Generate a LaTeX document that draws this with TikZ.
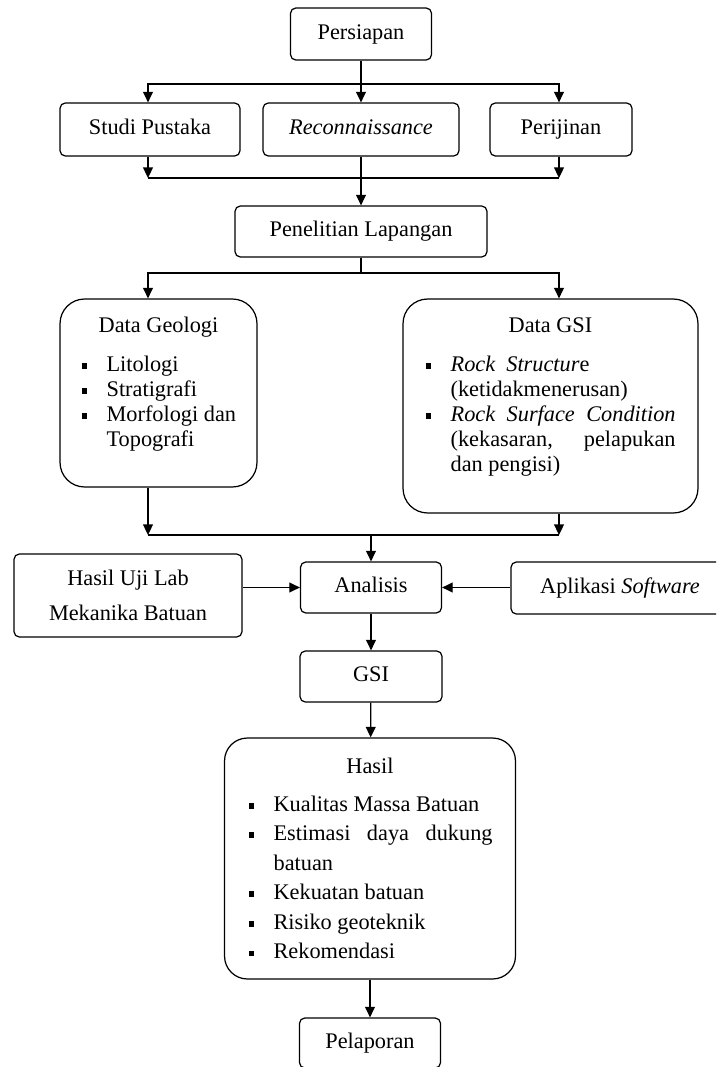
\documentclass[tikz,border=0pt]{standalone}
\usepackage{fontspec}
\setmainfont{Liberation Serif}
\usepackage{tikz}
\usetikzlibrary{positioning, arrows.meta, calc}
\hyphenpenalty=10000
\exhyphenpenalty=10000
\tolerance=10000
\newcommand{\kotakhitam}{\rule[1.4pt]{3.2pt}{3.2pt}}
\newcommand{\butir}{\hangindent=0.5cm\hangafter=1\makebox[0.5cm][l]{\kotakhitam}}
\tikzset{
  boxbase/.style={rectangle, rounded corners=3pt, minimum width=2.82cm, minimum height=1.04cm, text centered, draw=black},
  process/.style={boxbase, text height=8.6pt, text depth=2.8pt},
  group/.style={rectangle, rounded corners=14pt, draw=black},
  judul/.style={anchor=base, inner sep=0pt},
  isi/.style={anchor=base west, inner sep=0pt},
  arrow/.style={-{Triangle[length=6pt,width=5.6pt]}}
}
\begin{document}
\begin{tikzpicture}[
            % satu satuan = satu piksel gambar acuan
            x=0.02cm, y=-0.02cm,
            line width=0.7pt,
            every node/.style={font=\fontsize{12.7}{14.3}\selectfont}
        ]
            \useasboundingbox (0,0) rectangle (716,1067);
            \clip (0,0) rectangle (716,1067);

            % Tahap persiapan
            \node (persiapan) [process] at (361,34) {Persiapan};
            \node (studi) [process, minimum width=3.6cm, minimum height=1.06cm] at (150,129.5) {Studi Pustaka};
            \node (recon) [process, minimum width=3.92cm, minimum height=1.06cm] at (361,129.5) {\textit{Reconnaissance}};
            \node (izin) [process, minimum width=2.84cm, minimum height=1.06cm] at (561,129.5) {Perijinan};
            \node (lapangan) [process, minimum width=5.04cm, minimum height=1.02cm] at (361,231.5) {Penelitian Lapangan};

            % Kelompok data
            \node (geologi) [group, minimum width=3.94cm, minimum height=3.76cm] at (158.5,393) {};
            \node (geologi-judul) [judul] at (158.5,332) {Data Geologi};
            \node (geologi-isi) [isi] at (81,371) {\parbox[t]{3.26cm}{\raggedright\butir Litologi\par\butir Stratigrafi\par\butir Morfologi dan Topografi}};

            \node (datagsi) [group, minimum width=5.9cm, minimum height=4.28cm] at (550.5,406) {};
            \node (datagsi-judul) [judul] at (550.5,332) {Data GSI};
            \node (datagsi-isi) [isi] at (425,371) {\parbox[t]{5cm}{\butir \textit{Rock\ \ Structur}e\\(ketidakmenerusan)\par\butir \textit{Rock Surface Condition} (kekasaran, pelapukan dan pengisi)}};

            % Analisis
            \node (ujilab) [boxbase, minimum width=4.56cm, minimum height=1.66cm, align=center, font=\fontsize{12.7}{19.9}\selectfont] at (128,595.5) {Hasil Uji Lab\\Mekanika Batuan};
            \node (analisis) [process, minimum height=1.02cm] at (371,587.5) {Analisis};
            \node (software) [process, minimum width=4.36cm] at (620,588) {Aplikasi \textit{Software}};
            \node (gsi) [process, minimum width=2.84cm, minimum height=1.02cm] at (371,676.5) {GSI};

            % Hasil dan pelaporan
            \node (hasil) [group, rounded corners=13pt, minimum width=5.82cm, minimum height=4.82cm] at (370,858.5) {};
            \node (hasil-judul) [judul] at (370,773) {Hasil};
            \node (hasil-isi) [isi, font=\fontsize{12.7}{16.8}\selectfont] at (248,811) {\parbox[t]{4.88cm}{\butir Kualitas Massa Batuan\par\butir Estimasi daya dukung batuan\par\butir Kekuatan batuan\par\butir Risiko geoteknik\par\butir Rekomendasi}};
            \node (pelaporan) [process, minimum height=1.0cm] at (370,1043) {Pelaporan};

            % Titik cabang dan gabungan
            \coordinate (kiri) at (148,0);
            \coordinate (kanan) at (559,0);
            \coordinate (cab1) at (361,84);
            \coordinate (gab1) at (361,178);
            \coordinate (cab2) at (361,273);
            \coordinate (gab2) at (371,535);

            % Persiapan ke tiga kegiatan
            \draw [arrow] (persiapan) -- (recon);
            \draw [arrow] (cab1) -| (studi.north -| kiri);
            \draw [arrow] (cab1) -| (izin.north -| kanan);

            % Gabung ke penelitian lapangan
            \draw [arrow] (studi.south -| kiri) -- (gab1 -| kiri);
            \draw [arrow] (izin.south -| kanan) -- (gab1 -| kanan);
            \draw (gab1 -| kiri) -- (gab1 -| kanan);
            \draw [arrow] (recon) -- (lapangan);

            % Penelitian lapangan ke data
            \draw (lapangan) -- (cab2);
            \draw [arrow] (cab2) -| (geologi.north -| kiri);
            \draw [arrow] (cab2) -| (datagsi.north -| kanan);

            % Data ke analisis
            \draw [arrow] (geologi.south -| kiri) -- (gab2 -| kiri);
            \draw [arrow] (datagsi.south -| kanan) -- (gab2 -| kanan);
            \draw (gab2 -| kiri) -- (gab2 -| kanan);
            \draw [arrow] (gab2) -- (analisis);
            \draw [arrow] (ujilab.east |- analisis) -- (analisis);
            \draw [arrow] (software.west |- analisis) -- (analisis);

            % Alur ke hasil
            \draw [arrow] (analisis) -- (gsi);
            \draw [arrow] (gsi) -- (hasil);
            \draw [arrow] (hasil) -- (pelaporan);

        \end{tikzpicture}
\end{document}
